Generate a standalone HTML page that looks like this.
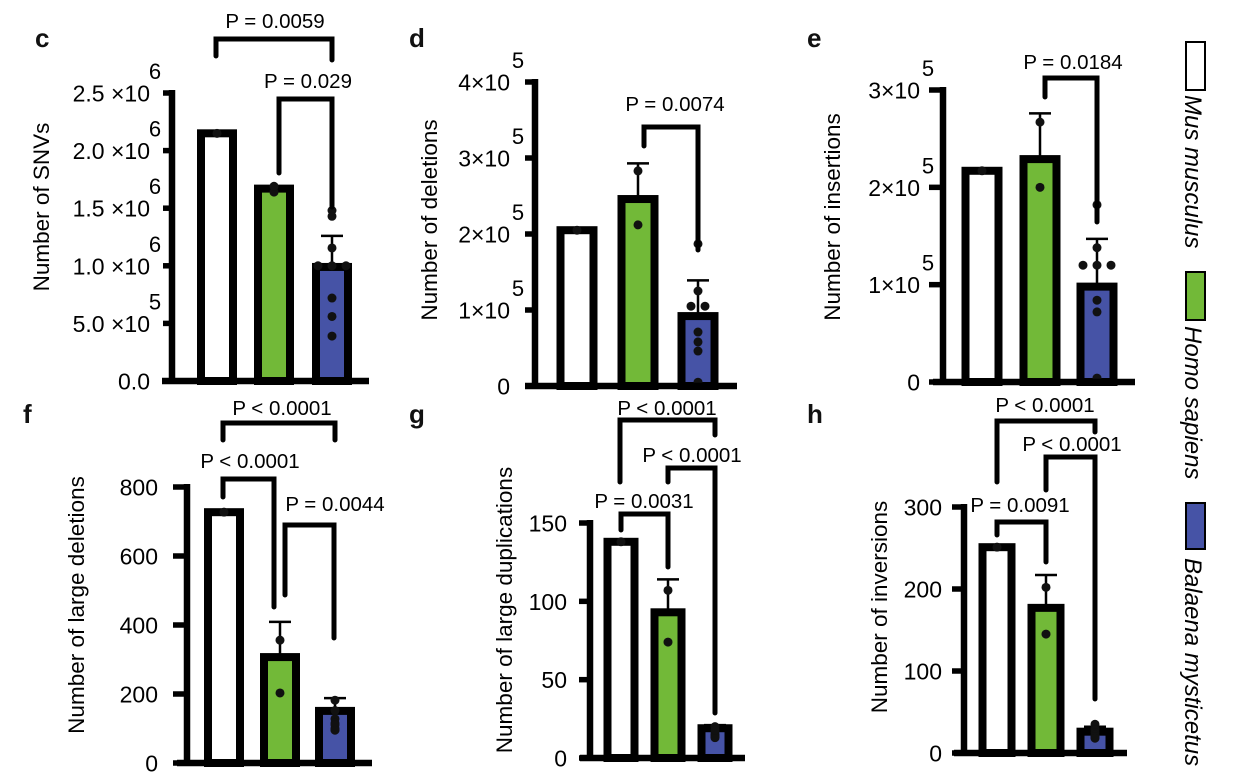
<!DOCTYPE html>
<html><head><meta charset="utf-8">
<style>
html,body{margin:0;padding:0;background:#fff;}
svg{display:block;font-family:"Liberation Sans",Arial,sans-serif;}
</style></head>
<body>
<svg id="fig" width="1259" height="776" viewBox="0 0 1259 776" xmlns="http://www.w3.org/2000/svg">
  <g font-weight="bold" font-size="26" fill="#111">
    <text x="35" y="47">c</text>
    <text x="409" y="47">d</text>
    <text x="807" y="47">e</text>
    <text x="23" y="423">f</text>
    <text x="409" y="423">g</text>
    <text x="807" y="423">h</text>
  </g>
  <g font-size="24" font-style="italic" fill="#000">
    <rect x="1186" y="42" width="19" height="48" fill="#fff" stroke="#000" stroke-width="2"/>
    <text transform="translate(1185,95) rotate(90)">Mus musculus</text>
    <rect x="1186" y="272" width="19" height="48" fill="#72b938" stroke="#000" stroke-width="2"/>
    <text transform="translate(1185,326) rotate(90)">Homo sapiens</text>
    <rect x="1186" y="503" width="19" height="46" fill="#4653a6" stroke="#000" stroke-width="2"/>
    <text transform="translate(1185,558) rotate(90)">Balaena mysticetus</text>
  </g>
</svg>
<script>
// ---- data ----
const species = ["Mus musculus", "Homo sapiens", "Balaena mysticetus"];
const cValues = [2150000, 1670000, 990000];
const cErr = [null, null, 1260000];
const cDotsMus = [2150000];
const cDotsHomo = [1640000, 1690000];
const cDotsBal = [1480000, 1430000, 1155000, 1000000, 1000000, 1000000, 720000, 560000, 390000];
const cTicks = [0, 500000, 1000000, 1500000, 2000000, 2500000];
const cTickLabels = ["0.0", "5.0 ×10", "1.0 ×10", "1.5 ×10", "2.0 ×10", "2.5 ×10"];
const cTickExp = ["", "5", "6", "6", "6", "6"];
const cPLabels = ["P = 0.0059", "P = 0.029"];

const dValues = [205000, 246000, 92000];
const dErr = [null, 293000, 139000];
const dDotsMus = [205000];
const dDotsHomo = [283000, 212000];
const dDotsBal = [187000, 125000, 105000, 105000, 71000, 58000, 46000, 5000];
const dTicks = [0, 100000, 200000, 300000, 400000];
const dTickLabels = ["0", "1×10", "2×10", "3×10", "4×10"];
const dTickExp = ["", "5", "5", "5", "5"];
const dPLabels = ["P = 0.0074"];

const eValues = [217000, 229000, 98000];
const eErr = [null, 276000, 147000];
const eDotsMus = [217000];
const eDotsHomo = [267000, 200000];
const eDotsBal = [182000, 138000, 120000, 120000, 120000, 84000, 72000, 4000];
const eTicks = [0, 100000, 200000, 300000];
const eTickLabels = ["0", "1×10", "2×10", "3×10"];
const eTickExp = ["", "5", "5", "5"];
const ePLabels = ["P = 0.0184"];

const fValues = [727, 307, 151];
const fErr = [null, 409, 188];
const fDotsMus = [727];
const fDotsHomo = [356, 203];
const fDotsBal = [182, 152, 128, 116, 100, 96, 110, 95];
const fTicks = [0, 200, 400, 600, 800];
const fTickLabels = ["0", "200", "400", "600", "800"];
const fTickExp = ["", "", "", "", ""];
const fPLabels = ["P < 0.0001", "P < 0.0001", "P = 0.0044"];

const gValues = [138, 93, 19];
const gErr = [null, 114, 21];
const gDotsMus = [138];
const gDotsHomo = [107, 74];
const gDotsBal = [20, 17, 15, 14, 13, 18];
const gTicks = [0, 50, 100, 150];
const gTickLabels = ["0", "50", "100", "150"];
const gTickExp = ["", "", "", ""];
const gPLabels = ["P < 0.0001", "P < 0.0001", "P = 0.0031"];

const hValues = [251, 177, 26];
const hErr = [null, 217, 32];
const hDotsMus = [251];
const hDotsHomo = [202, 145];
const hDotsBal = [35, 30, 28, 25, 22, 20, 18];
const hTicks = [0, 100, 200, 300];
const hTickLabels = ["0", "100", "200", "300"];
const hTickExp = ["", "", "", ""];
const hPLabels = ["P < 0.0001", "P < 0.0001", "P = 0.0091"];

// ---- layout ----
const NS = "http://www.w3.org/2000/svg";
const fig = document.getElementById("fig");
const fills = ["#ffffff", "#72b938", "#4653a6"];

function mk(tag, attrs, parent) {
  const el = document.createElementNS(NS, tag);
  for (const k in attrs) el.setAttribute(k, attrs[k]);
  parent.appendChild(el);
  return el;
}

function panel(p) {
  const g = mk("g", {}, fig);
  
  
  const vmax = p.ticks[p.ticks.length - 1];
  const y = v => p.y0 - (v / vmax) * (p.y0 - p.yTop);
  const t = mk("text", {transform: `translate(${p.titleX},${p.titleY}) rotate(-90)`, "text-anchor": "middle", "font-size": 22.5}, g);
  t.textContent = p.title;
  
  
  for (let i = 0; i < 3; i++) {
    const cx = p.cx[i], hw = p.bw / 2 - 4;
    const r = mk("rect", {x: cx - hw, y: y(p.values[i]), width: 2 * hw, height: p.y0 - y(p.values[i]), fill: fills[i], stroke: "#000", "stroke-width": 8}, g);
    
    
    if (p.err[i] != null) {
      const e = mk("path", {d: `M${cx},${y(p.values[i])}V${y(p.err[i])}M${cx - 11},${y(p.err[i])}H${cx + 11}`, stroke: "#000", "stroke-width": 2.5, fill: "none"}, g);
      
      
    }
  }
  const dotSets = [p.dots[0], p.dots[1], p.dots[2]];
  for (let i = 0; i < 3; i++) {
    const arr = dotSets[i];
    arr.forEach((v, j) => {
      let dx = 0;
      if (i === 2 && arr.length > 1) {
        const same = arr.filter(w => w === v);
        if (same.length > 1) { const k = arr.slice(0, j).filter(w => w === v).length; dx = (k - (same.length - 1) / 2) * 14; }
      }
      const c = mk("circle", {cx: p.cx[i] + dx, cy: y(v), r: 4.5, fill: "#111"}, g);
      
      
    });
  }
  const ax = mk("path", {d: `M${p.ax},${p.yTop - 3}V${p.y0}M${p.ax - 10},${p.y0}H${p.xEnd}`, stroke: "#000", "stroke-width": 6.5, fill: "none"}, g);
  
  
  p.ticks.forEach((v, i) => {
    const ty = y(v);
    const tk = mk("line", {x1: p.tickL, x2: p.ax, y1: ty, y2: ty, stroke: "#000", "stroke-width": 5.5}, g);
    
    
    const lb = mk("text", {x: p.labR, y: ty + 8.5, "text-anchor": "end", "font-size": 23}, g);
    lb.textContent = p.tickLabels[i];
    
    
    if (p.tickExp[i]) {
      const ex = mk("text", {x: p.labR + p.expDx, y: ty - 14, "text-anchor": "middle", "font-size": 22}, g);
      ex.textContent = p.tickExp[i];
      
      
    }
  });
  p.brackets.forEach((b, i) => {
    const br = mk("path", {d: `M${b.x1},${b.l1}V${b.y}H${b.x2}V${b.l2}`, stroke: "#000", "stroke-width": 5, fill: "none", "stroke-linecap": "round"}, g);
    
    
    const tx = mk("text", {x: b.tx, y: b.ty, "text-anchor": "middle", "font-size": 20.5}, g);
    tx.textContent = p.pLabels[i];
    
    
  });
}

panel({id: "c", title: "Number of SNVs", titleX: 49, titleY: 207, values: cValues, err: cErr, dots: [cDotsMus, cDotsHomo, cDotsBal],
  ticks: cTicks, tickLabels: cTickLabels, tickExp: cTickExp, pLabels: cPLabels,
  ax: 172, yTop: 93, y0: 381, xEnd: 369, tickL: 163, labR: 150, expDx: 5, cx: [217, 274, 332], bw: 40,
  brackets: [{x1: 216, x2: 332, y: 39, l1: 56, l2: 60, tx: 275, ty: 28}, {x1: 279, x2: 332, y: 99, l1: 173, l2: 207, tx: 308, ty: 88}]});
panel({id: "d", title: "Number of deletions", titleX: 437, titleY: 220, values: dValues, err: dErr, dots: [dDotsMus, dDotsHomo, dDotsBal],
  ticks: dTicks, tickLabels: dTickLabels, tickExp: dTickExp, pLabels: dPLabels,
  ax: 535, yTop: 82, y0: 386, xEnd: 737, tickL: 525, labR: 510, expDx: 8, cx: [577, 638, 698], bw: 41,
  brackets: [{x1: 644, x2: 698, y: 127, l1: 146, l2: 250, tx: 675, ty: 111}]});
panel({id: "e", title: "Number of insertions", titleX: 840, titleY: 217, values: eValues, err: eErr, dots: [eDotsMus, eDotsHomo, eDotsBal],
  ticks: eTicks, tickLabels: eTickLabels, tickExp: eTickExp, pLabels: ePLabels,
  ax: 943, yTop: 90, y0: 382, xEnd: 1135, tickL: 929, labR: 920, expDx: 8, cx: [982, 1040, 1097], bw: 41,
  brackets: [{x1: 1045, x2: 1097, y: 78, l1: 97, l2: 222, tx: 1073, ty: 69}]});
panel({id: "f", title: "Number of large deletions", titleX: 84, titleY: 605, values: fValues, err: fErr, dots: [fDotsMus, fDotsHomo, fDotsBal],
  ticks: fTicks, tickLabels: fTickLabels, tickExp: fTickExp, pLabels: fPLabels,
  ax: 187, yTop: 487, y0: 763, xEnd: 372, tickL: 173, labR: 158, expDx: 0, cx: [224, 280, 335], bw: 40,
  brackets: [{x1: 223, x2: 335, y: 423, l1: 440, l2: 440, tx: 282, ty: 415},
             {x1: 223, x2: 274, y: 479, l1: 497, l2: 607, tx: 250, ty: 468},
             {x1: 285, x2: 334, y: 525, l1: 595, l2: 638, tx: 335, ty: 511}]});
panel({id: "g", title: "Number of large duplications", titleX: 512, titleY: 610, values: gValues, err: gErr, dots: [gDotsMus, gDotsHomo, gDotsBal],
  ticks: gTicks, tickLabels: gTickLabels, tickExp: gTickExp, pLabels: gPLabels,
  ax: 590, yTop: 523, y0: 758, xEnd: 745, tickL: 579, labR: 567, expDx: 0, cx: [621, 668, 715], bw: 35,
  brackets: [{x1: 620, x2: 715, y: 420, l1: 482, l2: 435, tx: 667, ty: 415},
             {x1: 668, x2: 715, y: 468, l1: 482, l2: 713, tx: 692, ty: 462},
             {x1: 621, x2: 668, y: 514, l1: 530, l2: 567, tx: 644, ty: 508}]});
panel({id: "h", title: "Number of inversions", titleX: 887, titleY: 607, values: hValues, err: hErr, dots: [hDotsMus, hDotsHomo, hDotsBal],
  ticks: hTicks, tickLabels: hTickLabels, tickExp: hTickExp, pLabels: hPLabels,
  ax: 964, yTop: 507, y0: 753, xEnd: 1127, tickL: 952, labR: 942, expDx: 0, cx: [997, 1046, 1095], bw: 37,
  brackets: [{x1: 997, x2: 1095, y: 421, l1: 482, l2: 432, tx: 1045, ty: 412},
             {x1: 1046, x2: 1095, y: 457, l1: 490, l2: 699, tx: 1072, ty: 451},
             {x1: 997, x2: 1046, y: 522, l1: 535, l2: 562, tx: 1020, ty: 512}]});
</script>
</body></html>
